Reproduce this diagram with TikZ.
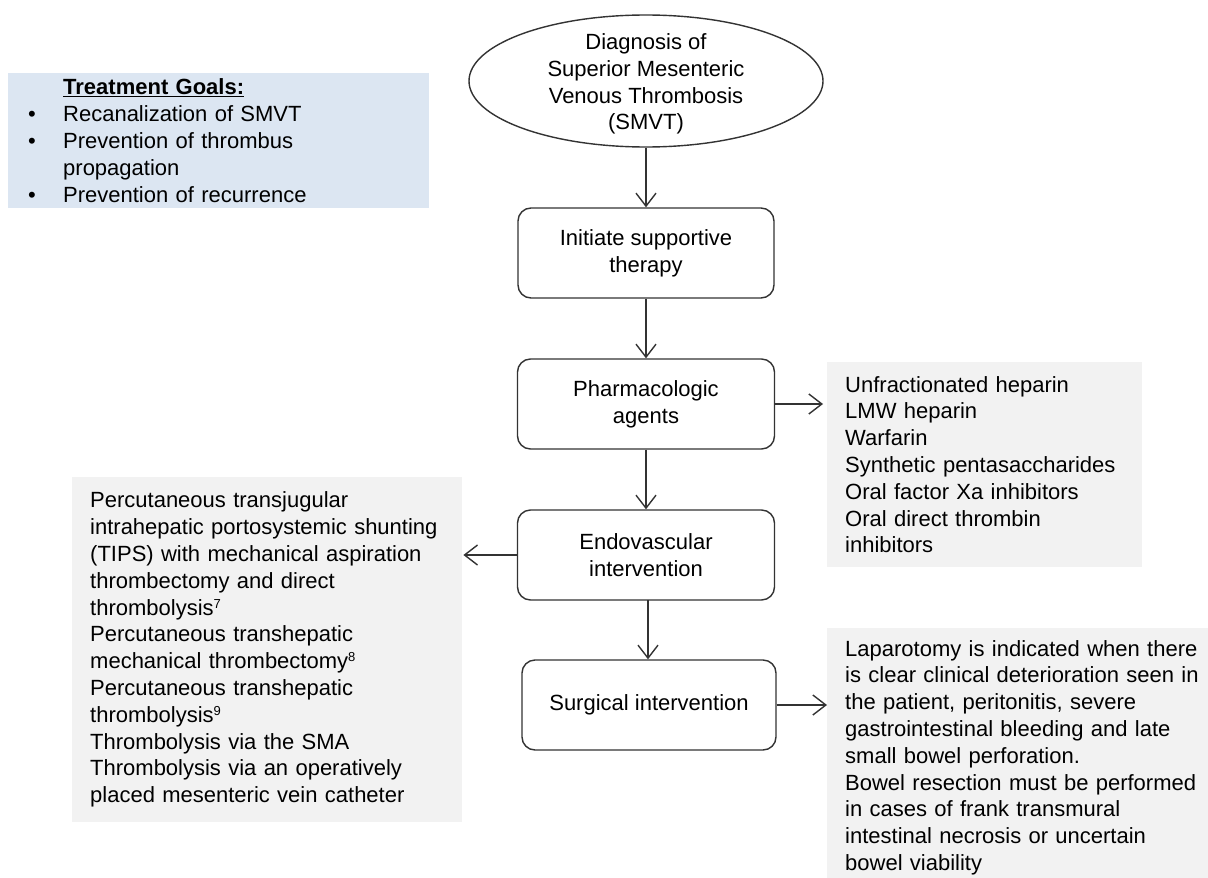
\documentclass[tikz,border=0pt]{standalone}
\usepackage{fontspec}
\setmainfont{Liberation Sans}
\usetikzlibrary{arrows.meta,shapes.geometric}
\definecolor{goalblue}{HTML}{DCE6F2}
\definecolor{listgrey}{HTML}{F2F2F2}
\definecolor{edgecol}{HTML}{333333}
\newcommand{\refsup}[1]{\raisebox{7pt}{\fontsize{13}{13}\selectfont #1}}
\begin{document}
\begin{tikzpicture}[x=1pt,y=-1pt,
  txt/.style={font=\fontsize{22}{26.8}\selectfont},
  flowbox/.style={txt, draw=edgecol, line width=1.4pt, rounded corners=13pt,
    minimum height=90pt, align=center, inner sep=4pt},
  listbox/.style={txt, fill=listgrey, anchor=north west, align=left,
    inner xsep=18pt, inner ysep=0pt},
  conn/.style={draw=edgecol, line width=1.4pt,
    -{Straight Barb[length=13pt,width=20pt,line width=1.4pt]}}]
\useasboundingbox (0,0) rectangle (1208,878);
\fill[white] (0,0) rectangle (1208,878);

% Treatment goals
\node[txt, fill=goalblue, anchor=north west, align=left, inner xsep=20pt, inner ysep=0pt,
  minimum width=421pt, minimum height=135pt, text width=381pt] (goals) at (8,73)
  {\hspace*{35pt}\underline{\textbf{Treatment Goals:}}\\
   \makebox[35pt][l]{\textbullet}Recanalization of SMVT\\
   \makebox[35pt][l]{\textbullet}Prevention of thrombus\\
   \hspace*{35pt}propagation\\
   \makebox[35pt][l]{\textbullet}Prevention of recurrence};

% Diagnosis ellipse
\node[ellipse, draw=edgecol, line width=1.4pt, minimum width=354pt, minimum height=132pt,
  inner sep=0pt] (diag) at (646,81) {};
\node[txt, align=center, inner sep=0pt] (diagtext) at (646,84)
  {Diagnosis of\\Superior Mesenteric\\Venous Thrombosis\\(SMVT)};

% Flow boxes
\node[flowbox, minimum width=256pt] (b1) at (646,253) {Initiate supportive\\therapy};
\node[flowbox, minimum width=257pt] (b2) at (646,404) {Pharmacologic\\agents};
\node[flowbox, minimum width=257pt] (b3) at (646,555) {Endovascular\\intervention};
\node[flowbox, minimum width=254pt] (b4) at (649,705) {Surgical intervention};

% Side lists
\node[listbox, minimum width=315pt, minimum height=205pt, text width=279pt] (pharma) at (827,362)
  {Unfractionated heparin\\
   LMW heparin\\
   Warfarin\\
   Synthetic pentasaccharides\\
   Oral factor Xa inhibitors\\
   Oral direct thrombin\\
   inhibitors};

\node[listbox, minimum width=390pt, minimum height=345pt, text width=354pt] (endo) at (72,477)
  {Percutaneous transjugular\\
   intrahepatic portosystemic shunting\\
   (TIPS) with mechanical aspiration\\
   thrombectomy and direct\\
   thrombolysis\refsup{7}\\
   Percutaneous transhepatic\\
   mechanical thrombectomy\refsup{8}\\
   Percutaneous transhepatic\\
   thrombolysis\refsup{9}\\
   Thrombolysis via the SMA\\
   Thrombolysis via an operatively\\
   placed mesenteric vein catheter};

\node[listbox, minimum width=400pt, minimum height=259pt, text width=364pt] (surg) at (827,628)
  {Laparotomy is indicated when there\\
   is clear clinical deterioration seen in\\
   the patient, peritonitis, severe\\
   gastrointestinal bleeding and late\\
   small bowel perforation.\\
   Bowel resection must be performed\\
   in cases of frank transmural\\
   intestinal necrosis or uncertain\\
   bowel viability};

% Connectors
\draw[conn] (diag.south) -- (b1.north);
\draw[conn] (b1.south) -- (b1.south |- b2.north);
\draw[conn] (b2.south) -- (b2.south |- b3.north);
\draw[conn] (648,600) coordinate (b3out) -- (b3out |- b4.north);
\draw[conn, shorten >=4pt] (b2.east) -- (b2.east -| pharma.west);
\draw[conn, shorten >=1pt] (b3.west) -- (b3.west -| endo.east);
\draw[conn] (b4.east) -- (b4.east -| surg.west);
\end{tikzpicture}
\end{document}
